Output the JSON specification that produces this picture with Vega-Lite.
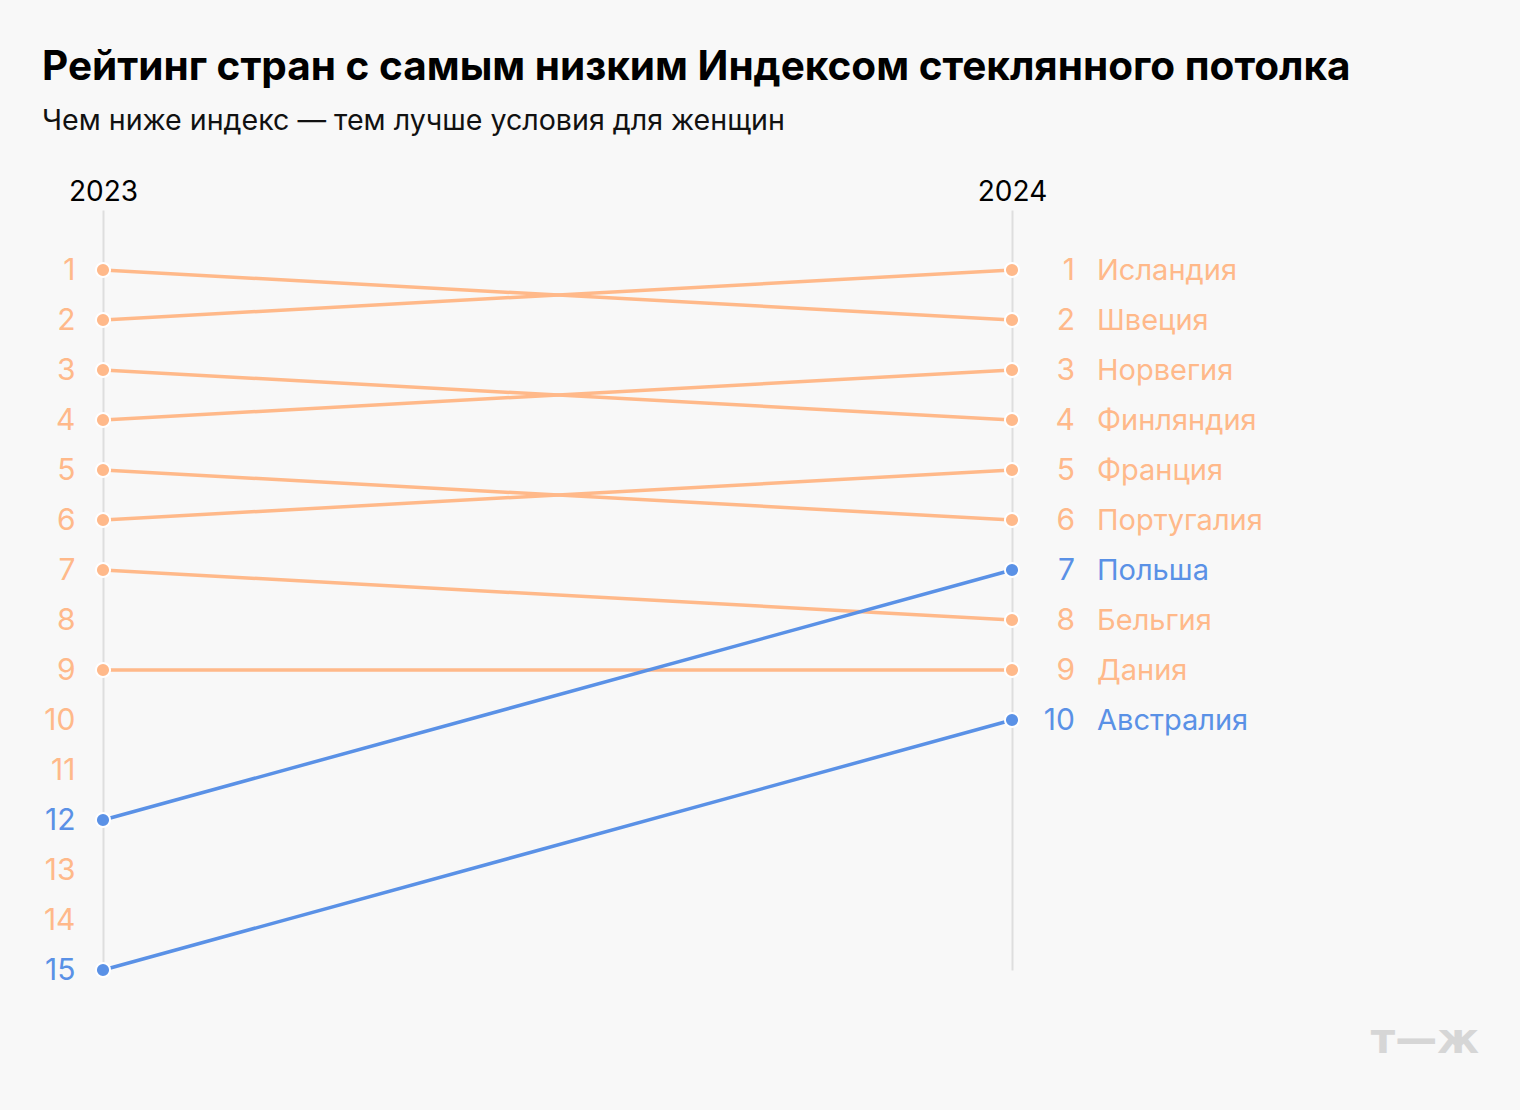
{
  "$schema": "https://vega.github.io/schema/vega-lite/v6.json",
  "width": 909,
  "height": 760,
  "autosize": {"type": "none"},
  "padding": {"left": 103, "top": 210, "right": 508, "bottom": 140},
  "background": "#F8F8F8",
  "title": {
    "text": "Рейтинг стран с самым низким Индексом стеклянного потолка",
    "subtitle": "Чем ниже индекс — тем лучше условия для женщин",
    "anchor": "start",
    "frame": "group",
    "dx": -61,
    "offset": 42,
    "font": "Inter",
    "fontSize": 40.5,
    "fontWeight": 700,
    "color": "#000000",
    "subtitleFont": "Inter",
    "subtitleFontSize": 28.6,
    "subtitleColor": "#111111",
    "subtitlePadding": 19
  },
  "config": {
    "view": {"stroke": null},
    "font": "Inter"
  },
  "data": {
    "values": [
      {"country": "Исландия", "year": 2023, "rank": 2, "group": "other"},
      {"country": "Исландия", "year": 2024, "rank": 1, "group": "other"},
      {"country": "Швеция", "year": 2023, "rank": 1, "group": "other"},
      {"country": "Швеция", "year": 2024, "rank": 2, "group": "other"},
      {"country": "Норвегия", "year": 2023, "rank": 4, "group": "other"},
      {"country": "Норвегия", "year": 2024, "rank": 3, "group": "other"},
      {"country": "Финляндия", "year": 2023, "rank": 3, "group": "other"},
      {"country": "Финляндия", "year": 2024, "rank": 4, "group": "other"},
      {"country": "Франция", "year": 2023, "rank": 6, "group": "other"},
      {"country": "Франция", "year": 2024, "rank": 5, "group": "other"},
      {"country": "Португалия", "year": 2023, "rank": 5, "group": "other"},
      {"country": "Португалия", "year": 2024, "rank": 6, "group": "other"},
      {"country": "Бельгия", "year": 2023, "rank": 7, "group": "other"},
      {"country": "Бельгия", "year": 2024, "rank": 8, "group": "other"},
      {"country": "Дания", "year": 2023, "rank": 9, "group": "other"},
      {"country": "Дания", "year": 2024, "rank": 9, "group": "other"},
      {"country": "Польша", "year": 2023, "rank": 12, "group": "highlight"},
      {"country": "Польша", "year": 2024, "rank": 7, "group": "highlight"},
      {"country": "Австралия", "year": 2023, "rank": 15, "group": "highlight"},
      {"country": "Австралия", "year": 2024, "rank": 10, "group": "highlight"}
    ]
  },
  "encoding": {
    "x": {
      "field": "year",
      "type": "quantitative",
      "scale": {"domain": [2023, 2024], "zero": false, "nice": false},
      "axis": {
        "orient": "top",
        "values": [2023, 2024],
        "format": "d",
        "title": null,
        "grid": true,
        "gridColor": "#DEDEDE",
        "gridWidth": 2,
        "domain": false,
        "ticks": false,
        "labelFontSize": 28,
        "labelColor": "#000000",
        "labelAlign": "center",
        "labelPadding": 4,
        "labelFont": "Inter"
      }
    },
    "y": {
      "field": "rank",
      "type": "quantitative",
      "scale": {"domain": [-0.2, 15], "reverse": true, "zero": false, "nice": false},
      "axis": {
        "values": [1, 2, 3, 4, 5, 6, 7, 8, 9, 10, 11, 12, 13, 14, 15],
        "title": null,
        "grid": false,
        "domain": false,
        "ticks": false,
        "labelFontSize": 30,
        "labelFont": "Inter",
        "labelPadding": 28,
        "labelBaseline": "middle",
        "labelColor": {
          "condition": {"test": "datum.value == 12 || datum.value == 15", "value": "#5A91E6"},
          "value": "#FFB98A"
        }
      }
    },
    "color": {
      "field": "group",
      "type": "nominal",
      "scale": {"domain": ["other", "highlight"], "range": ["#FFB98A", "#5A91E6"]},
      "legend": null
    }
  },
  "layer": [
    {
      "mark": {"type": "line", "strokeWidth": 3.5, "clip": false},
      "encoding": {"detail": {"field": "country"}}
    },
    {
      "mark": {"type": "circle", "size": 200, "opacity": 1, "stroke": "#FFFFFF", "strokeWidth": 2, "clip": false}
    },
    {
      "transform": [{"filter": "datum.year == 2024"}],
      "mark": {"type": "text", "align": "right", "baseline": "middle", "dx": 63, "dy": 1, "fontSize": 30, "font": "Inter"},
      "encoding": {"text": {"field": "rank", "type": "quantitative", "format": "d"}}
    },
    {
      "transform": [{"filter": "datum.year == 2024"}],
      "mark": {"type": "text", "align": "left", "baseline": "middle", "dx": 85, "dy": 1, "fontSize": 29, "font": "Inter"},
      "encoding": {"text": {"field": "country", "type": "nominal"}}
    },
    {
      "data": {"values": [{"logo": "т—ж", "year": 2024, "rank": 16.4}]},
      "mark": {"type": "text", "align": "right", "baseline": "middle", "dx": 467, "fontSize": 42, "fontWeight": "bold", "font": "DejaVu Sans", "letterSpacing": 3, "fill": "#D6D6D6"},
      "encoding": {
        "text": {"field": "logo", "type": "nominal"},
        "color": {"value": "#D6D6D6"}
      }
    }
  ]
}
